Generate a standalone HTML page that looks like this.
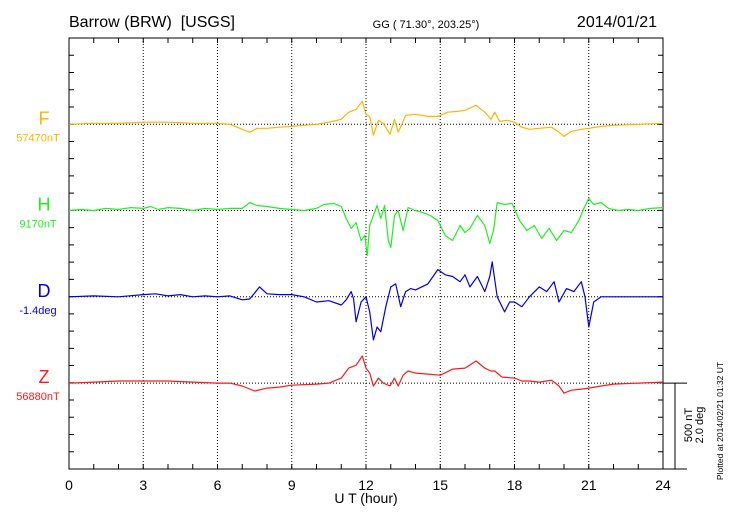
<!DOCTYPE html>
<html><head><meta charset="utf-8"><style>
html,body{margin:0;padding:0;background:#fff;}
svg{display:block;font-family:"Liberation Sans",sans-serif;}
</style></head><body>
<svg id="chart" width="730" height="520" viewBox="0 0 730 520">
<text x="69" y="27" font-size="16" style="white-space:pre">Barrow (BRW)&#160; [USGS]</text>
<text x="426" y="28" font-size="11" text-anchor="middle">GG ( 71.30°, 203.25°)</text>
<text x="657" y="27" font-size="16" text-anchor="end">2014/01/21</text>
<g id="grid"></g>
<g id="axes"></g>
<g id="series"></g>
<g id="labels"></g>
<text x="366" y="503" font-size="14" text-anchor="middle">U T (hour)</text>
<text transform="translate(692,425) rotate(-90)" font-size="11" text-anchor="middle">500 nT</text>
<text transform="translate(703,425) rotate(-90)" font-size="11" text-anchor="middle">2.0 deg</text>
<text transform="translate(723,421) rotate(-90)" font-size="8.5" text-anchor="middle">Plotted at 2014/02/21 01:32 UT</text>
</svg>
<script>
const xTicks = [0,3,6,9,12,15,18,21,24];
const F_h = [0,1,2,3,4,5,6,6.5,7,7.3,7.6,8,8.5,9,9.5,10,10.5,11,11.3,11.6,11.85,12.0,12.15,12.3,12.5,12.7,12.97,13.15,13.3,13.45,13.6,14,14.5,14.9,15.3,15.7,16,16.45,16.8,17.05,17.2,17.4,17.7,18,18.3,18.6,19,19.5,19.8,20,20.3,20.7,21,21.5,22,23,24];
const F_v = [0,6,6,12,12,6,6,0,-29,-46,-23,-23,-17,-12,-6,0,12,29,70,87,133,58,46,-64,23,6,-58,29,-46,0,52,58,46,46,70,75,81,110,70,29,70,17,23,12,-17,-29,-23,-17,-46,-70,-41,-29,-23,-12,-6,0,6];
const H_h = [0,0.5,1,1.5,2,2.5,3,3.3,3.6,4,4.5,5,5.5,6,6.5,7,7.3,7.6,8,8.5,9,9.5,10,10.3,10.7,11,11.2,11.4,11.6,11.8,11.95,12.05,12.15,12.3,12.45,12.6,12.75,12.9,13.0,13.15,13.3,13.5,13.7,14,14.3,14.6,14.9,15.2,15.5,15.8,16.0,16.2,16.5,16.8,17.0,17.15,17.3,17.6,17.9,18.2,18.5,18.8,19.1,19.4,19.7,20.0,20.3,20.6,20.8,21.0,21.2,21.5,21.8,22.2,22.6,23,23.5,24];
const H_v = [0,6,0,12,6,17,12,23,6,17,12,0,12,6,12,12,46,29,23,12,6,0,12,35,41,23,-46,-104,-70,-174,-145,-261,-87,-29,29,-46,29,-174,-215,-29,0,-116,17,0,-12,-29,-58,-145,-174,-87,-128,-104,-29,-87,-191,-116,46,35,41,-58,-116,-87,-162,-104,-174,-116,-128,-58,12,70,35,46,12,0,6,0,12,17];
const D_h = [0,1,2,3,3.5,4,4.5,5,5.5,6,6.5,7,7.3,7.7,8,8.5,9,9.5,10,10.5,11,11.2,11.4,11.5,11.6,11.8,12.0,12.15,12.3,12.45,12.6,12.8,13.0,13.2,13.4,13.6,13.8,14,14.5,14.9,15.2,15.5,15.8,16,16.2,16.5,16.8,17.0,17.1,17.3,17.6,17.8,18,18.3,18.6,19,19.3,19.6,19.8,20.1,20.4,20.7,20.85,21.0,21.2,21.5,22,23,24];
const D_v = [0,0.02,0,0.05,0.07,0.02,0.05,0,0.02,0,0.02,-0.07,-0.05,0.23,0.07,0.05,0.05,0,-0.12,-0.09,-0.19,-0.07,0.12,-0.05,-0.58,-0.12,0,-0.35,-1.0,-0.7,-0.81,-0.23,0.23,0.3,-0.23,0.12,0.19,0.16,0.3,0.63,0.51,0.47,0.35,0.51,0.23,0.47,0.12,0.47,0.81,0,-0.35,-0.12,-0.12,-0.23,0,0.23,0.12,0.35,-0.12,0.19,0.12,0.35,0,-0.7,-0.12,0,0,0,0];
const Z_h = [0,1,2,3,4,5,6,6.5,7,7.5,8,8.5,9,10,10.5,11,11.3,11.6,11.85,12.0,12.15,12.3,12.5,12.7,12.97,13.15,13.3,13.5,13.7,14,14.5,15,15.5,16,16.45,16.8,17.05,17.2,17.5,18,18.3,18.6,19,19.5,19.8,20,20.3,20.7,21,21.5,22,23,24];
const Z_v = [0,6,12,12,12,6,0,0,-17,-46,-29,-23,-12,-6,0,29,87,104,157,87,58,-17,29,0,-17,29,-17,46,70,58,52,46,81,87,128,87,70,70,35,29,12,12,6,17,-17,-58,-41,-35,-29,-17,-6,0,6];

const L=69,R=663,T=38,B=469;
const NS="http://www.w3.org/2000/svg";
const pxPerNT = 86.25/500, pxPerDeg = 86.25/2.0;
const xS = h => L + h*(R-L)/24;
function mk(tag, attrs, parent){const e=document.createElementNS(NS,tag);for(const k in attrs)e.setAttribute(k,attrs[k]);parent.appendChild(e);return e;}
const grid=document.getElementById('grid'), axes=document.getElementById('axes'), series=document.getElementById('series'), labels=document.getElementById('labels');

const bases=[124.3,210.5,296.8,383.1];
xTicks.forEach(t=>{
  if(t>0&&t<24){const g=mk('line',{x1:xS(t),x2:xS(t),y1:T,y2:B,stroke:'#000','stroke-width':1,'stroke-dasharray':'1,2'},grid);
  
  }
  const tx=mk('text',{x:xS(t),y:490,'font-size':14,'text-anchor':'middle'},axes);
  
  
  tx.textContent=t;
});
bases.forEach(b=>{const g=mk('line',{x1:L,x2:R,y1:b,y2:b,stroke:'#000','stroke-width':1,'stroke-dasharray':'1,2'},grid);
  
  });
const box=mk('rect',{x:L,y:T,width:R-L,height:B-T,fill:'none',stroke:'#000','stroke-width':1},axes);


let d='';
for(let h=0;h<=24;h++){const x=xS(h);d+=`M${x},${T}v5M${x},${B}v-5`;}
for(let i=1;i<25;i++){const y=T+i*(B-T)/25;d+=`M${L},${y}h5M${R},${y}h-5`;}
const tk=mk('path',{d:d,stroke:'#000','stroke-width':1,fill:'none'},axes);


const sb=mk('path',{d:`M${R},${bases[3]}H687M${R},${B}H687M675,${bases[3]}V${B}`,stroke:'#000','stroke-width':1,fill:'none'},axes);



const defs=[
 {n:'F',h:F_h,v:F_v,s:pxPerNT,c:'#ffb400',lab:'57470nT'},
 {n:'H',h:H_h,v:H_v,s:pxPerNT,c:'#22ee22',lab:'9170nT'},
 {n:'D',h:D_h,v:D_v,s:pxPerDeg,c:'#0000ee',lab:'-1.4deg'},
 {n:'Z',h:Z_h,v:Z_v,s:pxPerNT,c:'#ff1a1a',lab:'56880nT'}];
defs.forEach((s,i)=>{
  const b=bases[i];
  const pts=s.h.map((h,j)=>`${xS(h).toFixed(1)},${(b - s.v[j]*s.s).toFixed(1)}`).join(' ');
  const pl=mk('polyline',{points:pts,fill:'none',stroke:s.c,'stroke-width':1.2,'stroke-linejoin':'round'},series);
  
  
  const t1=mk('text',{x:44,y:b-0,'font-size':18,'text-anchor':'middle',fill:s.c},labels);
  
  
  t1.textContent=s.n;
  const t2=mk('text',{x:38,y:b+17,'font-size':11,'text-anchor':'middle',fill:s.c},labels);
  
  
  t2.textContent=s.lab;
});
</script>
</body></html>
